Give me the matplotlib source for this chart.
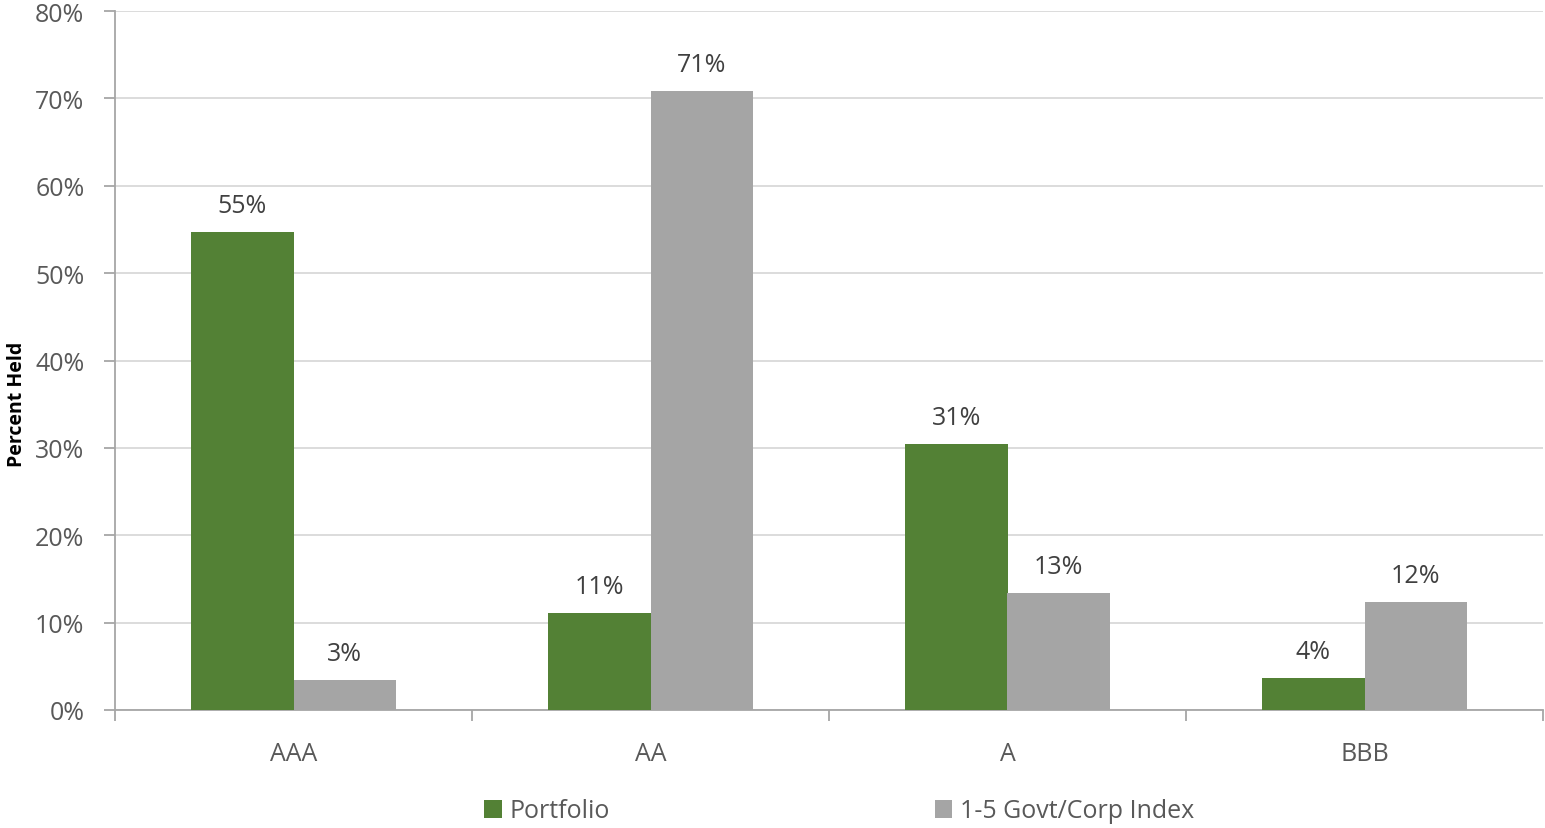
import numpy as np
import matplotlib.pyplot as plt
from matplotlib.ticker import FuncFormatter, FixedLocator

# credit quality breakdown
categories = ["AAA", "AA", "A", "BBB"]
portfolio = [54.7, 11.1, 30.5, 3.7]
index_vals = [3.4, 70.8, 13.4, 12.4]
portfolio_labels = ["55%", "11%", "31%", "4%"]
index_labels = ["3%", "71%", "13%", "12%"]

plt.rcParams['font.family'] = ['Open Sans', 'DejaVu Sans']

green = "#538135"
grey = "#A5A5A5"
text_col = "#595959"

fig = plt.figure(figsize=(15.45, 8.29), dpi=100)
ax = fig.add_axes([115 / 1545, 1 - 711 / 829, 1428 / 1545, 699 / 829])

x = np.arange(len(categories))
w = 0.286
b1 = ax.bar(x - w / 2, portfolio, w, color=green, label="Portfolio", zorder=3)
b2 = ax.bar(x + w / 2, index_vals, w, color=grey, label="1-5 Govt/Corp Index", zorder=3)

# data labels above bars
for bars, labs in ((b1, portfolio_labels), (b2, index_labels)):
    for rect, lab in zip(bars, labs):
        ax.annotate(lab, (rect.get_x() + rect.get_width() / 2, rect.get_height()),
                    xytext=(0, 10), textcoords="offset points",
                    ha="center", va="bottom", fontsize=18, color="#404040")

ax.set_xlim(-0.5, len(categories) - 0.5)
ax.set_ylim(0, 80)
ax.set_yticks(np.arange(0, 81, 10))
ax.yaxis.set_major_formatter(FuncFormatter(lambda v, p: f"{v:.0f}%"))
ax.grid(axis="y", color="#D9D9D9", linewidth=1.3, zorder=0)

ax.set_xticks(x)
ax.set_xticklabels(categories)
ax.xaxis.set_minor_locator(FixedLocator(np.arange(-0.5, len(categories), 1.0)))
ax.tick_params(axis="x", which="major", length=0, pad=22, labelsize=18, labelcolor=text_col)
ax.tick_params(axis="x", which="minor", length=8, width=1.3, color="#A6A6A6")
ax.tick_params(axis="y", length=8, width=1.3, color="#A6A6A6", pad=14,
               labelsize=18, labelcolor=text_col)

for s in ("top", "right"):
    ax.spines[s].set_visible(False)
for s in ("left", "bottom"):
    ax.spines[s].set_color("#A6A6A6")
    ax.spines[s].set_linewidth(1.3)

ax.set_ylabel("Percent Held", fontsize=14, fontweight="bold", color="black")
ax.yaxis.set_label_coords(-88 / 1428, 0.438)

fig.legend(loc="center", bbox_to_anchor=(839 / 1545, 1 - 812 / 829), ncol=2, frameon=False,
           fontsize=18, labelcolor=text_col, handlelength=0.7, handleheight=0.7,
           handletextpad=0.3, columnspacing=13)

fig.savefig("out.png", dpi=100)
